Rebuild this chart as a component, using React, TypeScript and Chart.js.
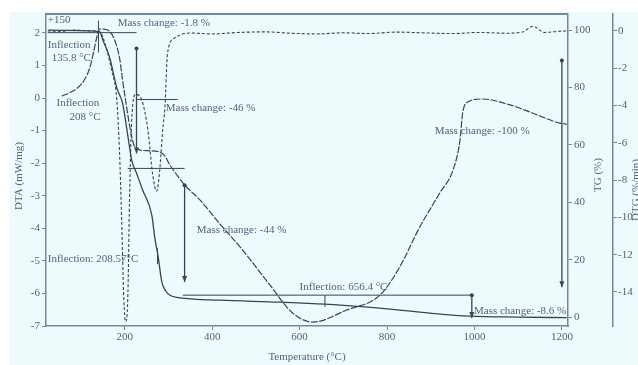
import React, { useEffect, useRef } from "react";
import { Chart, registerables } from "chart.js";

Chart.register(...registerables);

// ---------- data ----------
const xTickValues = [200, 400, 600, 800, 1000, 1200];
const dtaTickValues = [-7, -6, -5, -4, -3, -2, -1, 0, 1, 2];
const tgTickValues = [0, 20, 40, 60, 80, 100];
const dtgTickValues = [-14, -12, -10, -8, -6, -4, -2, 0];

// DTA curve (mW/mg) vs temperature (°C)
const dtaTemps = [56, 74, 92, 108, 120, 129, 136, 143, 161, 177, 189, 195, 202, 211, 221, 234, 257, 280, 292, 303, 321, 337, 372, 420, 470, 532, 584, 630, 708, 784, 829, 875, 921, 951, 967, 973, 985, 1019, 1081, 1127, 1195, 1211];
const dtaValues = [0.06, 0.16, 0.31, 0.56, 0.92, 1.42, 1.85, 2.12, 2.09, 1.78, 1.17, 0.56, -0.06, -0.83, -1.44, -1.59, -1.62, -1.66, -1.78, -2.05, -2.39, -2.67, -3.13, -3.9, -4.67, -5.74, -6.6, -6.88, -6.51, -6.05, -5.19, -3.96, -2.91, -2.21, -1.29, -0.46, -0.12, -0.03, -0.21, -0.43, -0.77, -0.8];

// TG curve (%) vs temperature (°C)
const tgTemps = [25, 120, 143, 150, 166, 182, 195, 207, 216, 227, 241, 262, 269, 276, 285, 294, 303, 333, 417, 555, 658, 783, 898, 989, 1104, 1211];
const tgValues = [100, 99.7, 99.3, 96.5, 90.2, 79.8, 74.6, 63.4, 54.7, 50.2, 44.3, 35.5, 27.5, 21.6, 12.2, 9.1, 7.7, 6.6, 5.9, 5.2, 4.5, 3.1, 1.4, 0.35, 0.0, -0.2];

// DTG curve (%/min) vs temperature (°C)
const dtgTemps = [24, 51, 86, 120, 143, 156, 170, 182, 188, 193, 198, 202, 207, 211, 216, 225, 239, 253, 264, 273, 280, 287, 292, 298, 314, 349, 400, 460, 520, 580, 640, 700, 760, 820, 880, 950, 1010, 1070, 1110, 1134, 1160, 1190, 1211];
const dtgValues = [0, -0.02, 0.05, 0, -0.05, -0.75, -2.1, -3.7, -6.4, -10.1, -14.4, -15.6, -14.4, -9.1, -4.8, -3.4, -3.7, -5.3, -7.7, -8.6, -7.5, -5.3, -4.1, -1.2, -0.38, -0.11, -0.16, -0.08, -0.05, -0.12, -0.16, -0.1, -0.14, -0.06, -0.1, -0.14, -0.08, -0.12, -0.06, 0.25, -0.08, -0.02, 0.0];

// guide lines in (°C, TG %) : [T1, TG1, T2, TG2]
const guideLines = [
  [24, 99.1, 227, 99.1],
  [227, 75.8, 321, 75.8],
  [207, 51.8, 337, 51.8],
  [333, 7.65, 994, 7.65],
  [140, 103.3, 140, 92.2],
  [275, 24, 275, 18.5],
  [658, 7.65, 658, 3.6],
];
// mass-change arrows in (°C, TG from, TG to)
const massArrows = [
  [227, 93.6, 57],
  [337, 45.9, 12.2],
  [1200, 89.4, 10.4],
  [994, 7.65, -0.35],
];
// annotation texts in (text, °C, TG %)
const noteTexts: [string, number, number][] = [
  ["+150", 24, 103.3],
  ["Mass change: -1.8 %", 184, 102.3],
  ["Inflection", 24, 94.6],
  ["135.8 °C", 33, 90.2],
  ["Inflection", 44, 74.4],
  ["208 °C", 74, 69.6],
  ["Mass change: -46 %", 294, 72.7],
  ["Mass change: -44 %", 365, 30.3],
  ["Inflection: 208.57°C", 24, 20.2],
  ["Inflection: 656.4 °C", 600, 10.4],
  ["Mass change: -100 %", 909, 64.7],
  ["Mass change: -8.6 %", 999, 2.1],
];

const xTitle = "Temperature (°C)";
const dtaTitle = "DTA (mW/mg)";
const tgTitle = "TG (%)";
const dtgTitle = "DTG (%/min)";

// ---------- style ----------
const BG = "#edfbfc";
const LINE = "#39425a";
const TEXT = "#56607e";
const AXIS = "#7a84a0";
const FONT = "Liberation Serif";

const toPts = (xs: number[], ys: number[]) => xs.map((x, i) => ({ x, y: ys[i] }));
const fixTicks = (vals: number[]) => (s: any) => {
  s.ticks = vals.map((v) => ({ value: v }));
};

export default function App() {
  const ref = useRef<HTMLCanvasElement | null>(null);

  useEffect(() => {
    const canvas = ref.current;
    if (!canvas) return;

    const bgPlugin = {
      id: "bg",
      beforeDraw(chart: any) {
        const { ctx, width, height } = chart;
        ctx.save();
        ctx.fillStyle = "#ffffff";
        ctx.fillRect(0, 0, width, height);
        ctx.fillStyle = BG;
        ctx.fillRect(10, 12, width - 10, height - 12);
        ctx.restore();
      },
    };

    const annPlugin = {
      id: "ann",
      afterDatasetsDraw(chart: any) {
        const { ctx, scales, chartArea } = chart;
        const xs = scales.x;
        const ys = scales.yTG;
        const px = (t: number) => xs.getPixelForValue(t);
        const py = (v: number) => ys.getPixelForValue(v);
        ctx.save();
        ctx.strokeStyle = LINE;
        ctx.fillStyle = LINE;
        ctx.lineWidth = 1;
        for (const [t1, v1, t2, v2] of guideLines) {
          ctx.beginPath();
          ctx.moveTo(px(t1), py(v1));
          ctx.lineTo(px(t2), py(v2));
          ctx.stroke();
        }
        for (const [t, a, b] of massArrows) {
          const x = px(t);
          const y1 = py(a);
          const y2 = py(b);
          ctx.lineWidth = 1.3;
          ctx.beginPath();
          ctx.moveTo(x, y1);
          ctx.lineTo(x, y2);
          ctx.stroke();
          ctx.beginPath();
          ctx.arc(x, y1, 2, 0, Math.PI * 2);
          ctx.fill();
          const d = y2 > y1 ? 1 : -1;
          ctx.beginPath();
          ctx.moveTo(x, y2);
          ctx.lineTo(x - 2.5, y2 - d * 6);
          ctx.lineTo(x + 2.5, y2 - d * 6);
          ctx.closePath();
          ctx.fill();
        }
        // top frame line
        ctx.strokeStyle = AXIS;
        ctx.lineWidth = 2;
        ctx.beginPath();
        ctx.moveTo(chartArea.left, chartArea.top);
        ctx.lineTo(chartArea.right, chartArea.top);
        ctx.stroke();

        ctx.fillStyle = TEXT;
        ctx.font = `11px "${FONT}"`;
        ctx.textBaseline = "middle";
        ctx.textAlign = "left";
        for (const [s, t, v] of noteTexts) {
          ctx.fillText(s, px(t), py(v));
        }

        // axis titles
        ctx.textAlign = "center";
        ctx.fillText(xTitle, (chartArea.left + chartArea.right) / 2, 357);
        const rot = (s: string, x: number, y: number) => {
          ctx.save();
          ctx.translate(x, y);
          ctx.rotate(-Math.PI / 2);
          ctx.fillText(s, 0, 0);
          ctx.restore();
        };
        rot(dtaTitle, 19, 176);
        rot(tgTitle, 598, 175);
        rot(dtgTitle, 636, 190);
        ctx.restore();
      },
    };

    const tickFont = { family: FONT, size: 11 };

    const chart = new Chart(canvas, {
      type: "line",
      data: {
        datasets: [
          {
            label: "DTA",
            data: toPts(dtaTemps, dtaValues),
            yAxisID: "yDTA",
            borderColor: LINE,
            borderWidth: 1.2,
            borderDash: [7, 1.5],
            pointRadius: 0,
            cubicInterpolationMode: "monotone",
            fill: false,
          },
          {
            label: "TG",
            data: toPts(tgTemps, tgValues),
            yAxisID: "yTG",
            borderColor: LINE,
            borderWidth: 1.3,
            pointRadius: 0,
            cubicInterpolationMode: "monotone",
            fill: false,
          },
          {
            label: "DTG",
            data: toPts(dtgTemps, dtgValues),
            yAxisID: "yDTG",
            borderColor: LINE,
            borderWidth: 1.1,
            borderDash: [3, 2],
            pointRadius: 0,
            cubicInterpolationMode: "monotone",
            fill: false,
          },
        ],
      },
      options: {
        responsive: false,
        animation: false,
        devicePixelRatio: 1,
        layout: { padding: { top: 14, left: 0, right: 0, bottom: 0 } },
        plugins: { legend: { display: false }, tooltip: { enabled: false } },
        scales: {
          x: {
            type: "linear",
            position: "bottom",
            min: 20,
            max: 1214,
            afterBuildTicks: fixTicks(xTickValues),
            ticks: { color: TEXT, font: tickFont, padding: 1, maxRotation: 0, callback: (v: any) => String(v) },
            grid: { drawOnChartArea: false, tickLength: 4, color: AXIS },
            border: { color: AXIS, width: 1.5 },
            afterFit: (s: any) => { s.height = 39; },
          },
          yDTA: {
            type: "linear",
            position: "left",
            min: -7,
            max: 2.58,
            afterBuildTicks: fixTicks(dtaTickValues),
            ticks: { color: TEXT, font: tickFont, padding: 2, callback: (v: any) => String(v) },
            grid: { drawOnChartArea: false, tickLength: 4, color: AXIS },
            border: { color: AXIS, width: 1.5 },
            afterFit: (s: any) => { s.width = 46; },
          },
          yTG: {
            type: "linear",
            position: "right",
            weight: 0,
            min: -3.1,
            max: 105.6,
            afterBuildTicks: fixTicks(tgTickValues),
            ticks: { color: TEXT, font: tickFont, padding: 2, callback: (v: any) => String(v) },
            grid: { drawOnChartArea: false, tickLength: 4, color: AXIS },
            border: { color: AXIS, width: 1.5 },
            afterFit: (s: any) => { s.width = 45; },
          },
          yDTG: {
            type: "linear",
            position: "right",
            weight: 1,
            min: -15.83,
            max: 0.91,
            afterBuildTicks: fixTicks(dtgTickValues),
            ticks: { color: TEXT, font: tickFont, padding: 1, callback: (v: any) => String(v) },
            grid: { drawOnChartArea: false, tickLength: 4, color: AXIS },
            border: { color: AXIS, width: 1.5 },
            afterFit: (s: any) => { s.width = 25; },
          },
        },
      } as any,
      plugins: [bgPlugin, annPlugin],
    });

    return () => chart.destroy();
  }, []);

  return (
    <div style={{ position: "fixed", left: 0, top: 0, width: 638, height: 365, background: "#fff", overflow: "hidden" }}>
      <canvas ref={ref} width={638} height={365} style={{ display: "block" }} />
    </div>
  );
}
